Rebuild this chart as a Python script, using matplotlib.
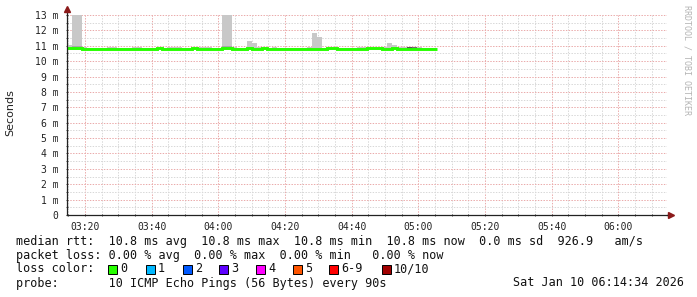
import numpy as np
import matplotlib.pyplot as plt
from matplotlib.ticker import MultipleLocator, FuncFormatter

# probe samples every 90 s, window 03:14:34 -> 06:14:34 (minutes after midnight)
t_start = 3 * 60 + 14 + 34 / 60
t_end = t_start + 180
step = 1.5

median_ms = [10.84, 10.84, 10.84, 10.78, 10.78, 10.78, 10.78, 10.78, 10.78, 10.78,
             10.78, 10.78, 10.78, 10.78, 10.78, 10.78, 10.78, 10.78, 10.84, 10.78,
             10.78, 10.78, 10.78, 10.78, 10.78, 10.84, 10.78, 10.78, 10.78, 10.78,
             10.78, 10.84, 10.84, 10.78, 10.78, 10.78, 10.84, 10.78, 10.78, 10.84,
             10.78, 10.78, 10.78, 10.81, 10.81, 10.81, 10.81, 10.81, 10.78, 10.78,
             10.78, 10.78, 10.84, 10.84, 10.78, 10.78, 10.78, 10.78, 10.78, 10.78,
             10.84, 10.84, 10.84, 10.78, 10.78, 10.84, 10.78, 10.78, 10.78, 10.78,
             10.78, 10.78, 10.78, 10.78]
smoke_hi = [11.05, 13.5, 13.5, 10.92, 10.85, 10.88, 10.88, 10.85, 10.90, 10.90,
            10.88, 10.85, 10.85, 10.90, 10.90, 10.88, 10.88, 10.85, 10.88, 10.85,
            10.90, 10.90, 10.90, 10.85, 10.85, 10.88, 10.90, 10.90, 10.90, 10.88,
            10.88, 13.5, 13.5, 10.92, 10.85, 10.85, 11.30, 11.20, 10.90, 10.88,
            10.88, 10.95, 10.88, 10.88, 10.88, 10.88, 10.88, 10.88, 10.92, 11.80,
            11.60, 10.88, 10.88, 10.88, 10.85, 10.88, 10.88, 10.88, 10.90, 10.90,
            10.88, 10.88, 10.88, 10.90, 11.15, 11.05, 10.92, 10.90, 10.92, 10.92,
            10.92, 10.88, 10.85, 10.85]
smoke_floor = 10.72
dark_steps = [1, 2, 31, 32, 68, 69]
dark_top = [11.0, 11.0, 11.0, 11.0, 10.93, 10.93]
dark_colors = ["#a8a8a8", "#a8a8a8", "#a8a8a8", "#a8a8a8", "#555555", "#707070"]

loss_labels = ["0", "1", "2", "3", "4", "5", "6-9", "10/10"]
loss_colors = ["#26ff00", "#00b8ff", "#0059ff", "#5e00ff", "#ff00ff", "#ff5500", "#ff0000", "#a10000"]
loss_box_x = [108, 146, 183, 219, 256, 293, 329, 382]

W, H = 697, 297
fig = plt.figure(figsize=(W / 100, H / 100), dpi=100)
ax = fig.add_axes([67 / W, 82 / H, 600 / W, 200 / H])

n = len(median_ms)
starts = t_start + step * np.arange(n)
edges = t_start + step * np.arange(n + 1)

ax.bar(starts, np.array(smoke_hi) - smoke_floor, width=step, bottom=smoke_floor,
       align="edge", color="#c8c8c8", linewidth=0, zorder=2)
ax.bar(starts[dark_steps], np.array(dark_top) - smoke_floor, width=step, bottom=smoke_floor,
       align="edge", color=dark_colors, linewidth=0, zorder=2)
ax.stairs(median_ms, edges, baseline=None, color="#26ff00", linewidth=2.1, zorder=3)

ax.set_xlim(t_start, t_end)
ax.set_ylim(0, 13)
ax.xaxis.set_major_locator(MultipleLocator(20))
ax.xaxis.set_minor_locator(MultipleLocator(5))
ax.yaxis.set_major_locator(MultipleLocator(1))
ax.yaxis.set_minor_locator(MultipleLocator(0.5))
ax.xaxis.set_major_formatter(FuncFormatter(lambda v, p: f"{int(v // 60):02d}:{int(round(v % 60)):02d}"))
ax.yaxis.set_major_formatter(FuncFormatter(lambda v, p: "0" if v == 0 else f"{v:.0f} m"))

dots = (0, (1.4, 1.4))
ax.grid(which="minor", color="#d8d8d8", linestyle=dots, linewidth=0.72, zorder=0)
ax.grid(which="major", color="#eaabab", linestyle=dots, linewidth=0.72, zorder=0)
ax.set_axisbelow(True)

for s in ["top", "right"]:
    ax.spines[s].set_visible(False)
for s in ["left", "bottom"]:
    ax.spines[s].set_color("#222222")
    ax.spines[s].set_linewidth(0.9)
    ax.spines[s].set_zorder(4)

mono = "DejaVu Sans Mono"
ax.tick_params(which="both", length=2, width=0.7, color="#444444", direction="inout")
ax.tick_params(axis="y", labelsize=7, pad=5)
ax.tick_params(axis="x", labelsize=7, pad=4)
for lab in ax.get_xticklabels() + ax.get_yticklabels():
    lab.set_family(mono)
    lab.set_color("#222222")

# axis arrows
ax.plot([0, 0], [1, 1.03], transform=ax.transAxes, color="#222222", lw=0.9, clip_on=False)
ax.plot([0], [1.03], marker="^", markersize=4, color="#8b1a1a", transform=ax.transAxes, clip_on=False)
ax.plot([1, 1.006], [0, 0], transform=ax.transAxes, color="#222222", lw=0.9, clip_on=False)
ax.plot([1.006], [0], marker=">", markersize=4, color="#8b1a1a", transform=ax.transAxes, clip_on=False)

fig.text(10 / W, 1 - 113 / H, "Seconds", rotation=90, ha="center", va="center",
         fontsize=8, family="DejaVu Sans", color="#222222")
fig.text(687 / W, 1 - 60 / H, "RRDTOOL / TOBI OETIKER", rotation=270, ha="center", va="center",
         fontsize=6, family=mono, color="#b4b4b4")


def put(x, y, s):
    fig.text(x / W, 1 - y / H, s, ha="left", va="center", fontsize=8.5, family=mono, color="#111111")


put(16, 241, "median rtt:  10.8 ms avg  10.8 ms max  10.8 ms min  10.8 ms now  0.0 ms sd  926.9   am/s")
put(16, 255, "packet loss: 0.00 % avg  0.00 % max  0.00 % min   0.00 % now")
put(16, 269, "loss color:")
for bx, lab, col in zip(loss_box_x, loss_labels, loss_colors):
    fig.patches.append(plt.Rectangle((bx / W, 1 - 273.5 / H), 8.5 / W, 8.5 / H, transform=fig.transFigure,
                                     facecolor=col, edgecolor="black", linewidth=0.7))
    put(bx + 12, 269, lab)
put(16, 283, "probe:       10 ICMP Echo Pings (56 Bytes) every 90s")
put(513, 283, "Sat Jan 10 06:14:34 2026")

fig.savefig("out.png", dpi=100)
